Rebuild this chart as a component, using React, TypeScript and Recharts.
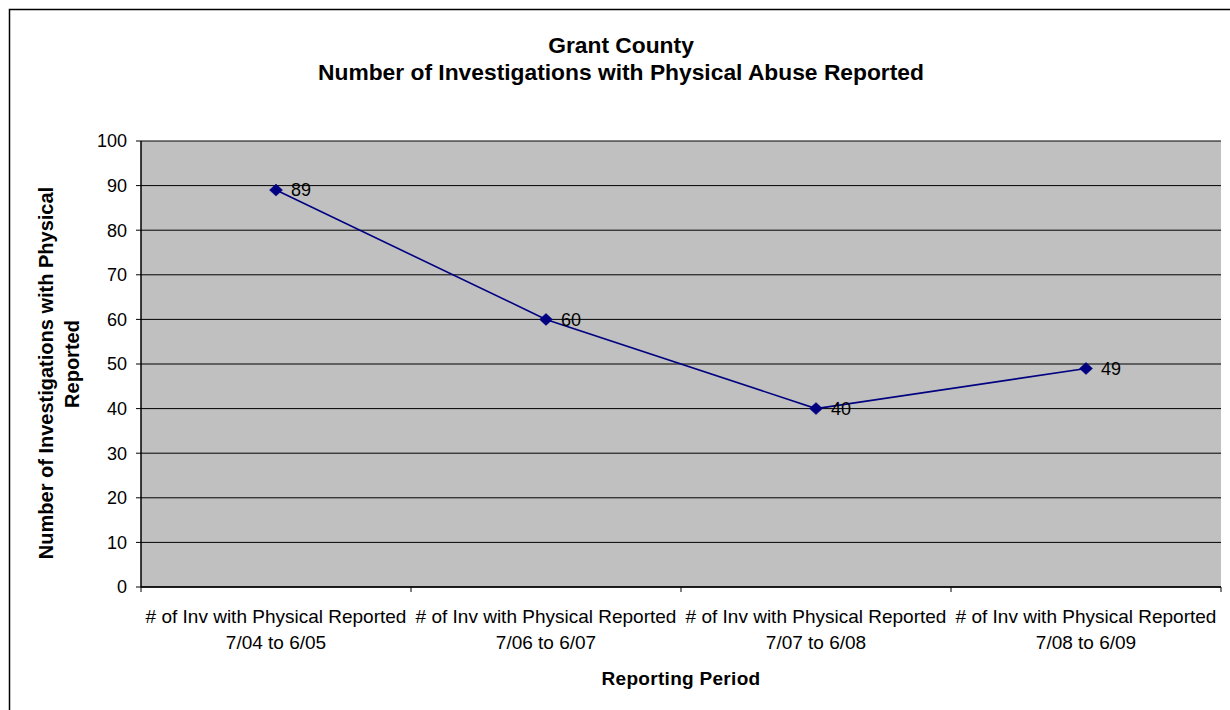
import React from 'react';
import { LineChart, Line, XAxis, YAxis, CartesianGrid, LabelList } from 'recharts';

const seriesPrefix = '# of Inv with Physical Reported';
const periods = ['7/04 to 6/05', '7/06 to 6/07', '7/07 to 6/08', '7/08 to 6/09'];
const investigations = [89, 60, 40, 49];
const yTicks = [0, 10, 20, 30, 40, 50, 60, 70, 80, 90, 100];

const titleLines = ['Grant County', 'Number of Investigations with Physical Abuse Reported'];
const yTitleLines = ['Number of Investigations with Physical', 'Reported'];
const xTitle = 'Reporting Period';

const data = periods.map((p, i) => ({ period: p, value: investigations[i] }));

const FONT = '"Liberation Sans", Arial, Helvetica, sans-serif';
const NAVY = '#000080';

function XTick(props: any) {
  const { x, y, payload, index, visibleTicksCount, width } = props;
  const n = visibleTicksCount || periods.length;
  const half = width / n / 2;
  return (
    <g>
      <line x1={x - half} x2={x - half} y1={y - 5} y2={y} stroke="#000" strokeWidth={1} />
      {index === n - 1 && (
        <line x1={x + half} x2={x + half} y1={y - 5} y2={y} stroke="#000" strokeWidth={1} />
      )}
      <text x={x} y={y + 31} textAnchor="middle" fontFamily={FONT} fontSize={19} fill="#000">
        {seriesPrefix}
      </text>
      <text x={x} y={y + 57} textAnchor="middle" fontFamily={FONT} fontSize={19} fill="#000">
        {payload.value}
      </text>
    </g>
  );
}

function Diamond(props: any) {
  const { cx, cy } = props;
  if (cx == null || cy == null) return null;
  return (
    <path
      d={`M${cx} ${cy - 6}L${cx + 6.5} ${cy}L${cx} ${cy + 6}L${cx - 6.5} ${cy}Z`}
      fill={NAVY}
      stroke={NAVY}
      strokeWidth={0.5}
    />
  );
}

export default function App() {
  return (
    <div style={{ position: 'absolute', left: 0, top: 0, width: 1230, height: 710, background: '#fff', overflow: 'hidden' }}>
      <LineChart
        width={1230}
        height={710}
        data={data}
        margin={{ top: 141, right: 9, left: 0, bottom: 0 }}
      >
        <CartesianGrid vertical={false} stroke="#000" strokeWidth={1} fill="#C0C0C0" fillOpacity={1} />
        <XAxis
          dataKey="period"
          type="category"
          scale="band"
          height={123}
          tickSize={5}
          tickMargin={0}
          tickLine={false}
          axisLine={{ stroke: '#000', strokeWidth: 1.5 }}
          tick={<XTick />}
          interval={0}
        />
        <XAxis
          xAxisId="top"
          orientation="top"
          dataKey="period"
          type="category"
          scale="band"
          height={0}
          tick={false}
          tickLine={false}
          axisLine={{ stroke: '#808080', strokeWidth: 1.5 }}
        />
        <YAxis
          type="number"
          domain={[0, 100]}
          ticks={yTicks}
          interval={0}
          width={141}
          tickSize={5}
          tickMargin={9}
          tickLine={{ stroke: '#000' }}
          axisLine={{ stroke: '#000', strokeWidth: 1.5 }}
          tick={{ fill: '#000', fontSize: 18, fontFamily: FONT }}
        />
        <YAxis
          yAxisId="right"
          orientation="right"
          type="number"
          domain={[0, 100]}
          width={0}
          tick={false}
          tickLine={false}
          axisLine={{ stroke: '#808080', strokeWidth: 1.5 }}
        />
        <Line
          type="linear"
          dataKey="value"
          stroke={NAVY}
          strokeWidth={1.6}
          dot={<Diamond />}
          activeDot={false}
          isAnimationActive={false}
        >
          <LabelList
            dataKey="value"
            position="right"
            offset={15}
            fill="#000"
            fontSize={18}
            fontFamily={FONT}
          />
        </Line>
      </LineChart>
      <svg
        width={1230}
        height={710}
        style={{ position: 'absolute', left: 0, top: 0, pointerEvents: 'none' }}
      >
        <path d="M9.5 710 V9.5 H1230" fill="none" stroke="#000" strokeWidth={1.5} />
        <text x={621} y={53} textAnchor="middle" fontFamily={FONT} fontWeight="bold" fontSize={22.8} fill="#000">
          {titleLines[0]}
        </text>
        <text x={621} y={80} textAnchor="middle" fontFamily={FONT} fontWeight="bold" fontSize={22.8} fill="#000">
          {titleLines[1]}
        </text>
        <text
          transform="translate(46,373) rotate(-90)"
          textAnchor="middle"
          dominantBaseline="central"
          fontFamily={FONT}
          fontWeight="bold"
          fontSize={20}
          fill="#000"
        >
          {yTitleLines[0]}
        </text>
        <text
          transform="translate(72,364) rotate(-90)"
          textAnchor="middle"
          dominantBaseline="central"
          fontFamily={FONT}
          fontWeight="bold"
          fontSize={20}
          fill="#000"
        >
          {yTitleLines[1]}
        </text>
        <text x={681} y={685} textAnchor="middle" fontFamily={FONT} fontWeight="bold" fontSize={19} letterSpacing={0.3} fill="#000">
          {xTitle}
        </text>
      </svg>
    </div>
  );
}
